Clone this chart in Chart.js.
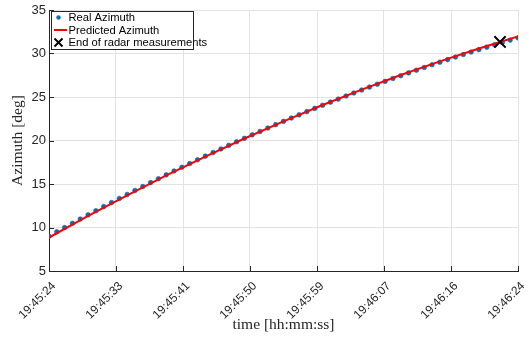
<!DOCTYPE html>
<html>
<head>
<meta charset="utf-8">
<script src="https://cdn.jsdelivr.net/npm/chart.js@4.4.1/dist/chart.umd.min.js"></script>
<style>
  html, body { margin: 0; padding: 0; background: #fff; }
  #wrap { width: 529px; height: 338px; }
</style>
</head>
<body>
<div id="wrap"><canvas id="chart" width="529" height="338"></canvas></div>
<script>
(function () {
    'use strict';

    // seconds after 19:45:24
    var realTime = [
        0, 1, 2, 3, 4, 5, 6, 7, 8, 9, 10, 11, 12, 13, 14, 15, 16, 17, 18, 19,
        20, 21, 22, 23, 24, 25, 26, 27, 28, 29, 30, 31, 32, 33, 34, 35, 36, 37, 38, 39,
        40, 41, 42, 43, 44, 45, 46, 47, 48, 49, 50, 51, 52, 53, 54, 55, 56, 57, 58, 59, 60
    ];
    var realAzimuth = [
        9.00, 9.50, 9.99, 10.48, 10.97, 11.45, 11.93, 12.40, 12.87, 13.34,
        13.80, 14.26, 14.71, 15.16, 15.61, 16.05, 16.49, 16.92, 17.35, 17.78,
        18.20, 18.62, 19.03, 19.44, 19.85, 20.25, 20.65, 21.04, 21.43, 21.82,
        22.20, 22.58, 22.95, 23.32, 23.69, 24.05, 24.41, 24.76, 25.11, 25.46,
        25.80, 26.14, 26.47, 26.80, 27.13, 27.45, 27.77, 28.08, 28.39, 28.70,
        29.00, 29.30, 29.59, 29.88, 30.17, 30.45, 30.73, 31.00, 31.27, 31.54, 31.80
    ];

    var predTime = [0, 5, 10, 15, 20, 25, 30, 35, 40, 45, 50, 55, 60];
    var predAzimuth = [8.85, 11.33, 13.70, 15.98, 18.15, 20.23, 22.20, 24.08, 25.85, 27.53, 29.10, 30.58, 31.95];

    var endTime = [57.7];
    var endAzimuth = [31.33];

    var xTickValues = [0, 8.571, 17.143, 25.714, 34.286, 42.857, 51.429, 60];
    var xTickLabels = ['19:45:24', '19:45:33', '19:45:41', '19:45:50', '19:45:59', '19:46:07', '19:46:16', '19:46:24'];
    var legendLabels = ['Real Azimuth', 'Predicted Azimuth', 'End of radar measurements'];

    function toPoints(xs, ys) {
        return xs.map(function (x, i) { return { x: x, y: ys[i] }; });
    }

    // =========================================================================
    // Plugins: inward tick marks and a MATLAB-style legend inside the axes
    // =========================================================================

    var innerTicks = {
        id: 'innerTicks',
        afterDraw: function (chart) {
            var ctx = chart.ctx;
            var area = chart.chartArea;
            var xs = chart.scales.x, ys = chart.scales.y;
            ctx.save();
            ctx.strokeStyle = '#262626';
            ctx.lineWidth = 1;
            ctx.beginPath();
            xs.ticks.forEach(function (t) {
                var px = Math.round(xs.getPixelForValue(t.value)) + 0.5;
                ctx.moveTo(px, area.bottom);
                ctx.lineTo(px, area.bottom - 5);
            });
            ys.ticks.forEach(function (t) {
                var py = Math.round(ys.getPixelForValue(t.value)) + 0.5;
                ctx.moveTo(area.left, py);
                ctx.lineTo(area.left + 5, py);
            });
            ctx.stroke();
            ctx.restore();
        }
    };

    var legendBox = {
        id: 'legendBox',
        afterDraw: function (chart) {
            var ctx = chart.ctx;
            var x0 = 51.5, y0 = 11.5, w = 142, h = 38;
            ctx.save();
            ctx.fillStyle = '#ffffff';
            ctx.fillRect(x0, y0, w, h);
            ctx.strokeStyle = '#262626';
            ctx.lineWidth = 1;
            ctx.strokeRect(x0, y0, w, h);

            var rows = [17.5, 30, 42.5];

            // dot
            ctx.fillStyle = '#0072BD';
            ctx.beginPath();
            ctx.arc(58.5, rows[0], 2.2, 0, Math.PI * 2);
            ctx.fill();

            // red line
            ctx.strokeStyle = '#FF0000';
            ctx.lineWidth = 2;
            ctx.beginPath();
            ctx.moveTo(54, rows[1]);
            ctx.lineTo(67, rows[1]);
            ctx.stroke();

            // cross
            ctx.strokeStyle = '#000000';
            ctx.lineWidth = 2;
            ctx.beginPath();
            ctx.moveTo(54.5, rows[2] - 4);
            ctx.lineTo(62.5, rows[2] + 4);
            ctx.moveTo(62.5, rows[2] - 4);
            ctx.lineTo(54.5, rows[2] + 4);
            ctx.stroke();

            ctx.fillStyle = '#000000';
            ctx.font = '11.2px "Liberation Sans", Arial, sans-serif';
            ctx.textBaseline = 'middle';
            ctx.textAlign = 'left';
            legendLabels.forEach(function (label, i) {
                ctx.fillText(label, 68.5, rows[i] + 0.5);
            });
            ctx.restore();
        }
    };

    // =========================================================================
    // Chart
    // =========================================================================

    var xTickFont = { family: '"Liberation Sans", Arial, sans-serif', size: 12 };
    var yTickFont = { family: '"Liberation Sans", Arial, sans-serif', size: 13 };
    var titleFont = { family: '"Liberation Serif", "Times New Roman", serif', size: 15.5 };

    new Chart(document.getElementById('chart'), {
        data: {
            datasets: [{
                type: 'line',
                label: legendLabels[2],
                data: toPoints(endTime, endAzimuth),
                showLine: false,
                pointStyle: 'crossRot',
                pointRadius: 8,
                borderColor: '#000000',
                borderWidth: 2,
                order: 0
            }, {
                type: 'line',
                label: legendLabels[1],
                data: toPoints(predTime, predAzimuth),
                borderColor: '#FF0000',
                borderWidth: 2,
                pointRadius: 0,
                tension: 0,
                order: 1
            }, {
                type: 'line',
                label: legendLabels[0],
                data: toPoints(realTime, realAzimuth),
                showLine: false,
                pointRadius: 2.3,
                pointBackgroundColor: '#0072BD',
                pointBorderColor: '#0063a6',
                pointBorderWidth: 0.6,
                order: 2
            }]
        },
        options: {
            responsive: false,
            animation: false,
            devicePixelRatio: 1,
            layout: { padding: { top: 8, right: 11, left: 0, bottom: 0 } },
            plugins: {
                legend: { display: false },
                tooltip: { enabled: false }
            },
            scales: {
                x: {
                    type: 'linear',
                    min: 0,
                    max: 60,
                    afterBuildTicks: function (scale) {
                        scale.ticks = xTickValues.map(function (v) { return { value: v }; });
                    },
                    afterFit: function (scale) {
                        scale.height = 67;
                        scale.paddingLeft = 0;
                        scale.paddingRight = 0;
                    },
                    ticks: {
                        autoSkip: false,
                        minRotation: 45,
                        maxRotation: 45,
                        padding: 8,
                        labelOffset: 5,
                        color: '#262626',
                        font: xTickFont,
                        callback: function (value, index) { return xTickLabels[index]; }
                    },
                    grid: { color: '#e3e3e3', drawTicks: false },
                    border: { color: '#262626', width: 1 },
                    title: {
                        display: true,
                        text: 'time [hh:mm:ss]',
                        color: '#262626',
                        font: titleFont,
                        padding: { top: 0, bottom: 4 }
                    }
                },
                y: {
                    min: 5,
                    max: 35,
                    afterFit: function (scale) {
                        scale.width = 49;
                        scale.paddingTop = 0;
                        scale.paddingBottom = 0;
                    },
                    ticks: {
                        stepSize: 5,
                        padding: 3,
                        color: '#262626',
                        font: yTickFont
                    },
                    grid: { color: '#e3e3e3', drawTicks: false },
                    border: { color: '#262626', width: 1 },
                    title: {
                        display: true,
                        text: 'Azimuth [deg]',
                        color: '#262626',
                        font: titleFont,
                        padding: { top: 9, bottom: 0 }
                    }
                }
            }
        },
        plugins: [innerTicks, legendBox]
    });
})();
</script>
</body>
</html>
